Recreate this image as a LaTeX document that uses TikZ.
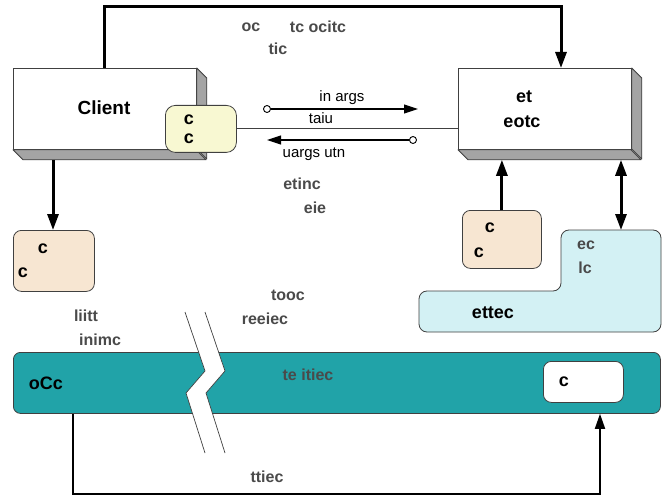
\documentclass[tikz,border=0pt]{standalone}
\usepackage{fontspec}
\setmainfont{Liberation Sans}
\usetikzlibrary{arrows.meta,calc}
\definecolor{edgec}{HTML}{404040}
\definecolor{shadec}{HTML}{A4A4A4}
\definecolor{yellowc}{HTML}{F8F8D2}
\definecolor{beigec}{HTML}{F7E6D2}
\definecolor{cyanc}{HTML}{D3F1F4}
\definecolor{tealc}{HTML}{21A3A8}
\definecolor{greytxt}{HTML}{4A4A4A}
\tikzset{
  facebox/.style={draw=edgec,fill=white,line width=0.8pt,inner sep=0,anchor=north west},
  shadebox/.style={draw=edgec,fill=shadec,line width=0.8pt,line join=round},
  softbox/.style={draw=edgec,line width=0.8pt,rounded corners=8pt,inner sep=0,anchor=north west},
  bold/.style={font=\fontsize{18}{20}\selectfont\bfseries,inner sep=0},
  bigbold/.style={font=\fontsize{19}{21}\selectfont\bfseries,inner sep=0},
  greylbl/.style={font=\fontsize{16}{18}\selectfont\bfseries,text=greytxt,inner sep=0},
  plainlbl/.style={font=\fontsize{15}{17}\selectfont,inner sep=0},
  conn/.style={line width=3pt,-{Triangle[length=16pt,width=11pt]}},
  dconn/.style={line width=3pt,{Triangle[length=16pt,width=11pt]}-{Triangle[length=16pt,width=11pt]}},
  thinconn/.style={line width=1.8pt,-{Triangle[length=15pt,width=10pt]}},
  argarrow/.style={line width=1.1pt,-{Triangle[length=14pt,width=9pt]}},
  dot/.style={circle,draw,fill=white,line width=0.9pt,inner sep=0,minimum size=7pt},
}
\begin{document}
\begin{tikzpicture}[x=1pt,y=-1pt]
\useasboundingbox[fill=white] (0,0) rectangle (665,495);

% Client 3D box
\node[facebox,minimum width=183pt,minimum height=81pt] (client) at (13,68) {};
\draw[shadebox] (client.north east) -- ++(10,10) -- ++(0,81) -- ++(-10,-10) -- cycle;
\draw[shadebox] (client.south west) -- ++(10,10) -- ++(183,0) -- ++(-10,-10) -- cycle;
\node[bigbold] (clientlbl) at (104,108) {Client};

% Server 3D box
\node[facebox,minimum width=173pt,minimum height=81pt] (server) at (458,68) {};
\draw[shadebox] (server.north east) -- ++(10,10) -- ++(0,81) -- ++(-10,-10) -- cycle;
\draw[shadebox] (server.south west) -- ++(10,10) -- ++(173,0) -- ++(-10,-10) -- cycle;
\node[bold] (srv1) at (524,97) {et};
\node[bold] (srv2) at (522,122) {eotc};
\coordinate (sb) at ($(server.south)+(0,10)$);
\coordinate (cb) at ($(client.south)+(0,10)$);

% yellow stub
\node[softbox,fill=yellowc,rounded corners=10pt,minimum width=71pt,minimum height=47pt] (stub) at (165,105) {};
\node[bold] (stub1) at (189,120) {c};
\node[bold] (stub2) at (189,139) {c};

% link between stub and server
\draw[edgec,line width=0.8pt] (stub.east) -- (stub.east -| server.west);

% in args / out args
\node[dot] (d1) at (267,109) {};
\coordinate (a1) at (418,109);
\draw[argarrow] (d1) -- (a1);
\node[dot] (d2) at (413,140) {};
\coordinate (a2) at (267,140);
\draw[argarrow] (d2) -- (a2);
\node[plainlbl] (inargs) at (342,98) {in args};
\node[plainlbl] (taiu) at (321,118) {taiu};
\node[plainlbl] (outargs) at (314,154) {uargs utn};

% top connector
\coordinate (tl) at (104,7);
\coordinate (tr) at (561,7);
\draw[conn] (client.north -| tl) -- (tl) -- (tr) -- (server.north -| tr);
\node[greylbl] (top1a) at (251,27) {oc};
\node[greylbl] (top1b) at (318,27) {tc ocitc};
\node[greylbl] (top2) at (278,49) {tic};

% left beige box
\node[softbox,fill=beigec,minimum width=81pt,minimum height=61pt] (lbox) at (13,230) {};
\node[bold] (l1) at (43,249) {c};
\node[bold] (l2) at (23,273) {c};
\coordinate (cx) at (53,0);
\draw[conn] (cb -| cx) -- (lbox.north -| cx);

% right beige box
\node[softbox,fill=beigec,minimum width=79pt,minimum height=58pt] (rbox) at (462,210) {};
\node[bold] (r1) at (490,228) {c};
\node[bold] (r2) at (479,253) {c};
\draw[conn] (rbox.north) -- (rbox.north |- sb);

% cyan L-shape
\draw[edgec,fill=cyanc,line width=0.8pt,rounded corners=8pt]
  (419,291) -- (561,291) -- (561,230) -- (661,230) -- (661,332) -- (419,332) -- cycle;
\coordinate (cyt) at (621,230);
\draw[dconn] (cyt) -- (cyt |- sb);
\node[greylbl] (cy1) at (586,245) {ec};
\node[greylbl] (cy2) at (585,268) {lc};
\node[bold] (cy3) at (493,313) {ettec};

% middle grey labels
\node[greylbl] (m1) at (302,184) {etinc};
\node[greylbl] (m2) at (315,208) {eie};
\node[greylbl] (m3) at (288,295) {tooc};
\node[greylbl] (m4) at (265,319) {reeiec};
\node[greylbl] (m5) at (86,316) {liitt};
\node[greylbl] (m6) at (100,340) {inimc};

% ORB bar
\node[softbox,fill=tealc,rounded corners=7pt,minimum width=647pt,minimum height=61pt] (orb) at (13,352) {};
\node[bold] (orblbl) at (46,383) {oCc};
\node[greylbl] (orbmid) at (308,375) {te itiec};
\node[softbox,fill=white,minimum width=80pt,minimum height=41pt] (wbox) at (543,361) {};
\node[bold] (wlbl) at (564,382) {c};

% break
\fill[white] (185,312) -- (205,371) -- (186,393) -- (205,453) -- (225,453) -- (206,393) -- (225,371) -- (205,312) -- cycle;
\draw[edgec,line width=0.7pt] (185,312) -- (205,371) -- (186,393) -- (205,453);
\draw[edgec,line width=0.7pt] (205,312) -- (225,371) -- (206,393) -- (225,453);

% bottom connector
\coordinate (bl) at (73,494);
\coordinate (br) at (600,494);
\draw[thinconn] (orb.south -| bl) -- (bl) -- (br) -- (orb.south -| br);
\node[greylbl] (botlbl) at (267,477) {ttiec};
\end{tikzpicture}
\end{document}
